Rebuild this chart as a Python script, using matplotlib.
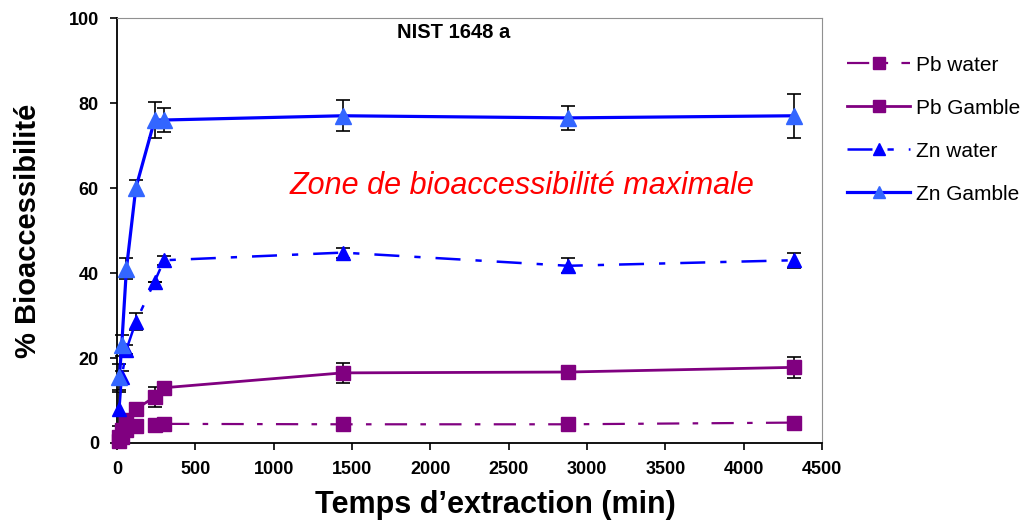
import matplotlib
matplotlib.use("Agg")
import matplotlib.pyplot as plt

# Temps d'extraction (min)
temps = [15, 30, 60, 120, 240, 300, 1440, 2880, 4320]

# % bioaccessibilite par serie
pb_water = [0.5, 1.5, 3.0, 4.0, 4.2, 4.5, 4.4, 4.4, 4.8]
pb_water_err = [0, 0, 0, 0, 0, 0, 0, 0, 0]
pb_gamble = [1.5, 3.0, 5.5, 8.0, 10.8, 13.0, 16.5, 16.7, 17.8]
pb_gamble_err = [0, 0, 0, 0, 2.3, 0, 2.4, 0, 2.5]
zn_water = [8.0, 15.5, 22.0, 28.5, 38.0, 43.0, 44.8, 41.7, 43.0]
zn_water_err = [4.0, 1.5, 1.0, 2.0, 0, 1.0, 1.2, 1.8, 1.8]
zn_gamble = [15.5, 23.0, 41.0, 60.0, 76.0, 76.0, 77.0, 76.5, 77.0]
zn_gamble_err = [3.0, 2.5, 2.5, 1.8, 4.2, 2.8, 3.7, 2.9, 5.2]

plt.rcParams['font.family'] = ['Liberation Sans', 'DejaVu Sans']

fig = plt.figure(figsize=(10.32, 5.27), dpi=100)
ax = fig.add_axes([0.1134, 0.1594, 0.6831, 0.8064])

violet = '#800080'
bleu = '#0000FF'
bleu_clair = '#3366FF'

# barres d'erreur en noir
for y, e in [(pb_water, pb_water_err), (pb_gamble, pb_gamble_err),
             (zn_water, zn_water_err), (zn_gamble, zn_gamble_err)]:
    ax.errorbar(temps, y, yerr=e, fmt='none', ecolor='black', elinewidth=1.2,
                capsize=5, capthick=1.2, clip_on=False, zorder=2)

ax.plot(temps, pb_water, color=violet, lw=1.6, ls=(0, (10, 6, 2.5, 6)),
        marker='s', ms=10, mfc=violet, mec=violet, label='Pb water', clip_on=False, zorder=3)
ax.plot(temps, pb_gamble, color=violet, lw=2.0, ls='-',
        marker='s', ms=10, mfc=violet, mec=violet, label='Pb Gamble', clip_on=False, zorder=3)
ax.plot(temps, zn_water, color=bleu, lw=1.8, ls=(0, (10, 6, 2.5, 6)),
        marker='^', ms=10, mfc=bleu, mec=bleu, label='Zn water', clip_on=False, zorder=3)
ax.plot(temps, zn_gamble, color=bleu, lw=2.3, ls='-',
        marker='^', ms=11, mfc=bleu_clair, mec=bleu_clair, label='Zn Gamble', clip_on=False, zorder=4)

ax.set_xlim(0, 4500)
ax.set_ylim(0, 100)
ax.set_xticks(range(0, 4501, 500))
ax.set_yticks(range(0, 101, 20))
ax.tick_params(direction='out', length=5, width=1.2, labelsize=13, pad=8)
for lab in ax.get_xticklabels() + ax.get_yticklabels():
    lab.set_fontweight('bold')

ax.spines['left'].set_linewidth(1.3)
ax.spines['bottom'].set_linewidth(1.3)
ax.spines['top'].set_color('#909090')
ax.spines['right'].set_color('#909090')

ax.set_xlabel('Temps d\u2019extraction (min)', fontsize=22, fontweight='bold')
ax.xaxis.set_label_coords(0.536, -0.11)
ax.set_ylabel('% Bioaccessibilit\u00e9', fontsize=21, fontweight='bold', labelpad=19)

ax.text(0.477, 0.965, 'NIST 1648 a', transform=ax.transAxes, ha='center', va='center',
        fontsize=14.5, fontweight='bold')
ax.text(0.245, 0.605, 'Zone de bioaccessibilit\u00e9 maximale', transform=ax.transAxes,
        ha='left', va='center', fontsize=22, style='italic', color='red')

fig.legend(loc='upper left', bbox_to_anchor=(0.803, 0.93), frameon=False,
           fontsize=15, handlelength=3.0, labelspacing=1.15, handletextpad=0.3,
           markerscale=0.85)

fig.savefig('out.png', dpi=100)
